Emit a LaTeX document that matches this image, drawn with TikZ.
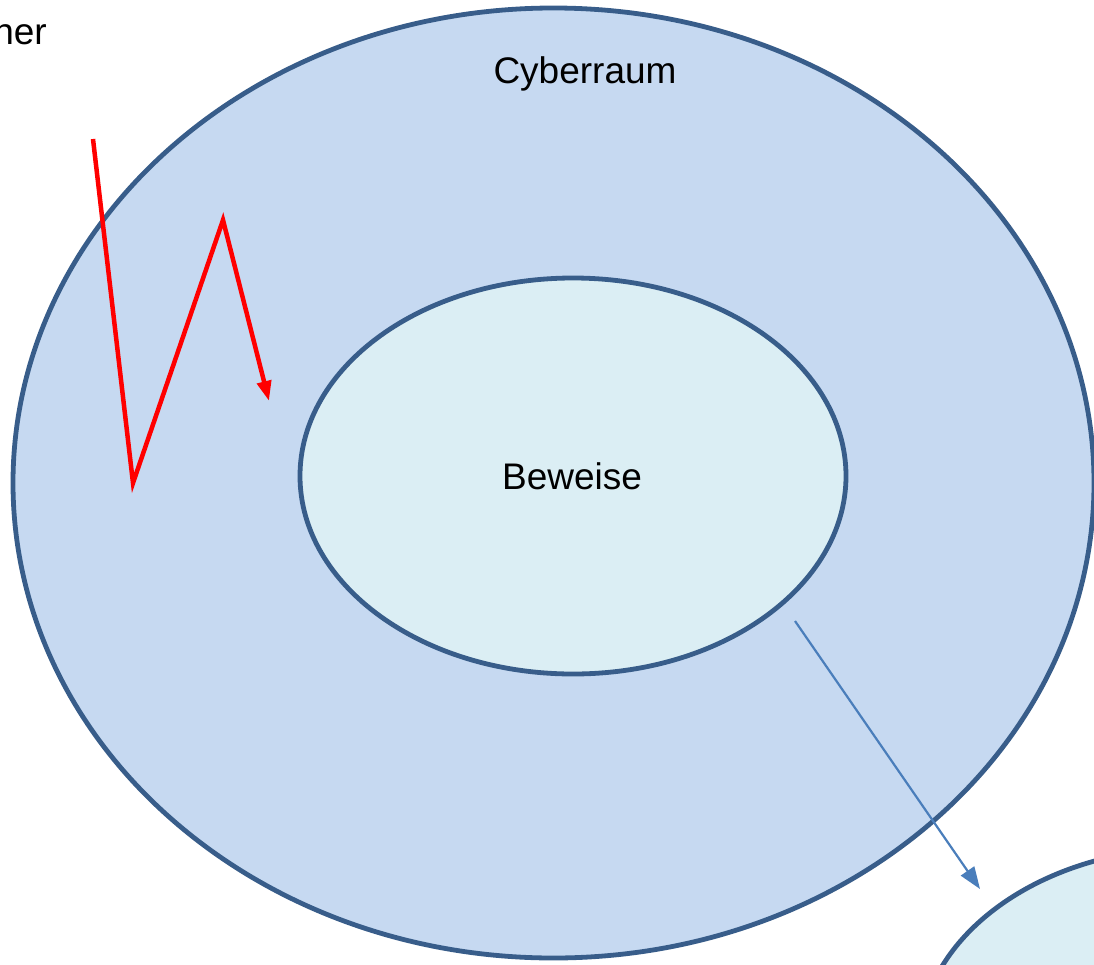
\documentclass[tikz,border=0pt]{standalone}
\usepackage{fontspec}
\setmainfont{Liberation Sans}
\usetikzlibrary{shapes.geometric,arrows.meta}
\definecolor{outerfill}{HTML}{C6D9F1}
\definecolor{innerfill}{HTML}{DBEEF4}
\definecolor{edgeblue}{HTML}{385D8A}
\definecolor{arrowblue}{HTML}{4A7EBB}
\tikzset{
  region/.style={ellipse, draw=edgeblue, line width=4.8pt, inner sep=0pt},
  lbl/.style={font=\fontsize{37}{44}\selectfont, inner sep=0pt, text=black},
  redpath/.style={draw=red, line width=4.5pt, line join=miter, -{Triangle[length=20pt,width=14pt]}},
  bluearrow/.style={draw=arrowblue, line width=2.2pt, -{Triangle[length=22pt,width=16pt]}}
}
\begin{document}
\begin{tikzpicture}[x=1pt,y=-1pt]
\useasboundingbox (0,0) rectangle (1094,964);
\clip (0,0) rectangle (1094,964);
\node[region, fill=outerfill, minimum width=1081pt, minimum height=950pt] (outer) at (553.5,483) {};
\node[region, fill=innerfill, minimum width=546pt, minimum height=396pt] (inner) at (573,476) {};
\node[region, fill=innerfill, minimum width=546pt, minimum height=396pt] (third) at (1192,1046) {};
\node[lbl, anchor=base] (cyber) at (585,83) {Cyberraum};
\node[lbl, anchor=base] (bew) at (572,489) {Beweise};
\node[lbl, anchor=base east] (her) at (47,44) {her};
\coordinate (r0) at (93,139);
\coordinate (r1) at (133,483);
\coordinate (r2) at (223,220);
\coordinate (r3) at (269,401);
\draw[redpath] (r0) -- (r1) -- (r2) -- (r3);
\coordinate (b0) at (795,621);
\coordinate (b1) at (980,889);
\draw[bluearrow] (b0) -- (b1);
\end{tikzpicture}
\end{document}
